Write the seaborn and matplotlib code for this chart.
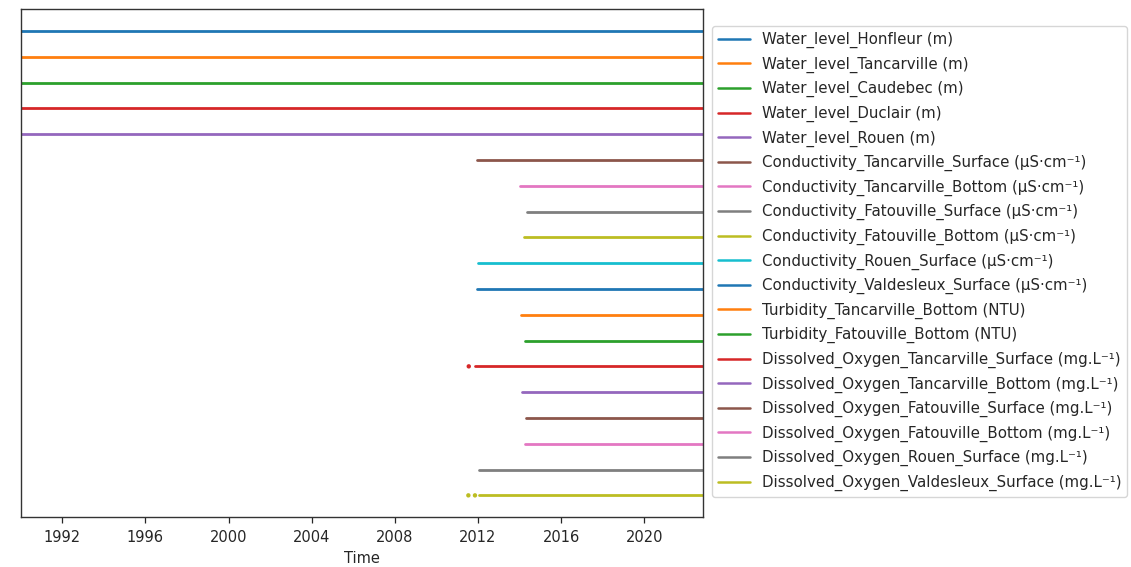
import matplotlib
matplotlib.use("Agg")
import matplotlib.pyplot as plt
import matplotlib.dates as mdates
import seaborn as sns
import pandas as pd

sns.set_style("ticks")
plt.rcParams["font.family"] = ["DejaVu Sans"]

# Monitoring series, in the order they are stacked from top to bottom
series_names = [
    "Water_level_Honfleur (m)",
    "Water_level_Tancarville (m)",
    "Water_level_Caudebec (m)",
    "Water_level_Duclair (m)",
    "Water_level_Rouen (m)",
    "Conductivity_Tancarville_Surface (µS·cm⁻¹)",
    "Conductivity_Tancarville_Bottom (µS·cm⁻¹)",
    "Conductivity_Fatouville_Surface (µS·cm⁻¹)",
    "Conductivity_Fatouville_Bottom (µS·cm⁻¹)",
    "Conductivity_Rouen_Surface (µS·cm⁻¹)",
    "Conductivity_Valdesleux_Surface (µS·cm⁻¹)",
    "Turbidity_Tancarville_Bottom (NTU)",
    "Turbidity_Fatouville_Bottom (NTU)",
    "Dissolved_Oxygen_Tancarville_Surface (mg.L⁻¹)",
    "Dissolved_Oxygen_Tancarville_Bottom (mg.L⁻¹)",
    "Dissolved_Oxygen_Fatouville_Surface (mg.L⁻¹)",
    "Dissolved_Oxygen_Fatouville_Bottom (mg.L⁻¹)",
    "Dissolved_Oxygen_Rouen_Surface (mg.L⁻¹)",
    "Dissolved_Oxygen_Valdesleux_Surface (mg.L⁻¹)",
]

# First date of the continuous record of each series
record_start = [
    "1990-01-01", "1990-01-01", "1990-01-01", "1990-01-01", "1990-01-01",
    "2011-12-15", "2014-01-05", "2014-05-05", "2014-03-20", "2012-01-05",
    "2011-12-08", "2014-01-20", "2014-04-05", "2011-11-10", "2014-02-05",
    "2014-05-01", "2014-04-05", "2012-01-15", "2012-01-15",
]
record_end = "2022-10-22"

# Isolated early measurements before the continuous record starts
early_series = [
    "Dissolved_Oxygen_Tancarville_Surface (mg.L⁻¹)",
    "Dissolved_Oxygen_Valdesleux_Surface (mg.L⁻¹)",
    "Dissolved_Oxygen_Valdesleux_Surface (mg.L⁻¹)",
]
early_dates = ["2011-07-22", "2011-07-15", "2011-11-08"]

tab10 = sns.color_palette("tab10", 10)
palette = {name: tab10[i % 10] for i, name in enumerate(series_names)}
row_of = {name: i for i, name in enumerate(series_names)}

# Availability segments: one start/end pair per series
rows = []
for name, start in zip(series_names, record_start):
    for d in (start, record_end):
        rows.append({"Time": pd.Timestamp(d), "row": row_of[name], "series": name})
spans = pd.DataFrame(rows)

points = pd.DataFrame({
    "Time": pd.to_datetime(early_dates),
    "row": [row_of[n] for n in early_series],
    "series": early_series,
})

fig = plt.figure(figsize=(11.31, 5.67), dpi=100)
W, H = 1131, 567
ax = fig.add_axes([20.7 / W, 1 - 517.3 / H, (702.7 - 20.7) / W, (517.3 - 9) / H])

sns.lineplot(data=spans, x="Time", y="row", hue="series", hue_order=series_names,
             palette=palette, units="series", estimator=None, linewidth=2.0,
             ax=ax, legend="full")
sns.scatterplot(data=points, x="Time", y="row", hue="series", hue_order=series_names,
                palette=palette, s=10, linewidth=0, ax=ax, legend=False)

ax.set_xlim(pd.Timestamp("1990-01-01"), pd.Timestamp(record_end))
ax.set_ylim(len(series_names) - 1 + 0.85, -0.85)
ax.set_yticks([])
ax.set_ylabel("")
ax.set_xlabel("Time", fontsize=10.5)
ax.xaxis.set_major_locator(mdates.YearLocator(4))
ax.xaxis.set_major_formatter(mdates.DateFormatter("%Y"))
ax.tick_params(axis="x", labelsize=10.5, length=4.5, width=0.9, pad=5)
for s in ax.spines.values():
    s.set_color("#333333")
    s.set_linewidth(1.0)

handles, labels = ax.get_legend_handles_labels()
leg = ax.legend(handles, labels, loc="upper left",
                bbox_to_anchor=(712 / W, 1 - 26 / H), bbox_transform=fig.transFigure,
                borderaxespad=0, fontsize=10.8, frameon=True, handlelength=2.1,
                labelspacing=0.56)
for h in leg.get_lines():
    h.set_linewidth(1.8)

fig.savefig("out.png", dpi=100)
